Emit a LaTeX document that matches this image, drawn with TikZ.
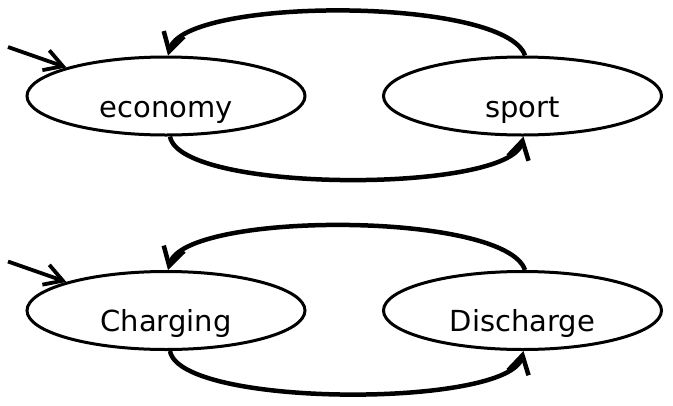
\documentclass[tikz,border=0pt]{standalone}
\usepackage{fontspec}
\setmainfont{DejaVu Sans}
\usetikzlibrary{arrows.meta,shapes.geometric}
\begin{document}
\begin{tikzpicture}[x=1pt,y=-1pt,
  state/.style={ellipse, draw, line width=3pt, minimum width=278pt,
    minimum height=78pt, inner sep=0pt, text height=42pt, text depth=0pt,
    font=\fontsize{29}{34}\selectfont},
  barb/.style={-{Straight Barb[length=18pt,width=21pt]}},
  trans/.style={barb, line width=4.5pt},
  entry/.style={barb, line width=3.8pt}]
\useasboundingbox (0,0) rectangle (673,405);

% first machine: driving mode
\node[state] (eco) at (166,96) {economy};
\node[state] (spo) at (522.5,96) {sport};
\coordinate (eco0) at (8,47);
\draw[entry] (eco0) -- (eco.164);
\draw[trans] ([xshift=2.5pt]spo.north) .. controls +(-20,-59) and +(16,-59) .. ([xshift=2pt]eco.north);
\draw[trans] ([xshift=4pt]eco.south) .. controls +(10,57) and +(-13.5,57) .. ([xshift=1pt]spo.south);

% second machine: battery state
\node[state] (chg) at (166,310.5) {Charging};
\node[state] (dis) at (522.5,310.5) {Discharge};
\coordinate (chg0) at (8,261.5);
\draw[entry] (chg0) -- (chg.164);
\draw[trans] ([xshift=2.5pt]dis.north) .. controls +(-20,-59) and +(16,-59) .. ([xshift=2pt]chg.north);
\draw[trans] ([xshift=4pt]chg.south) .. controls +(10,57) and +(-13.5,57) .. ([xshift=1pt]dis.south);
\end{tikzpicture}
\end{document}
